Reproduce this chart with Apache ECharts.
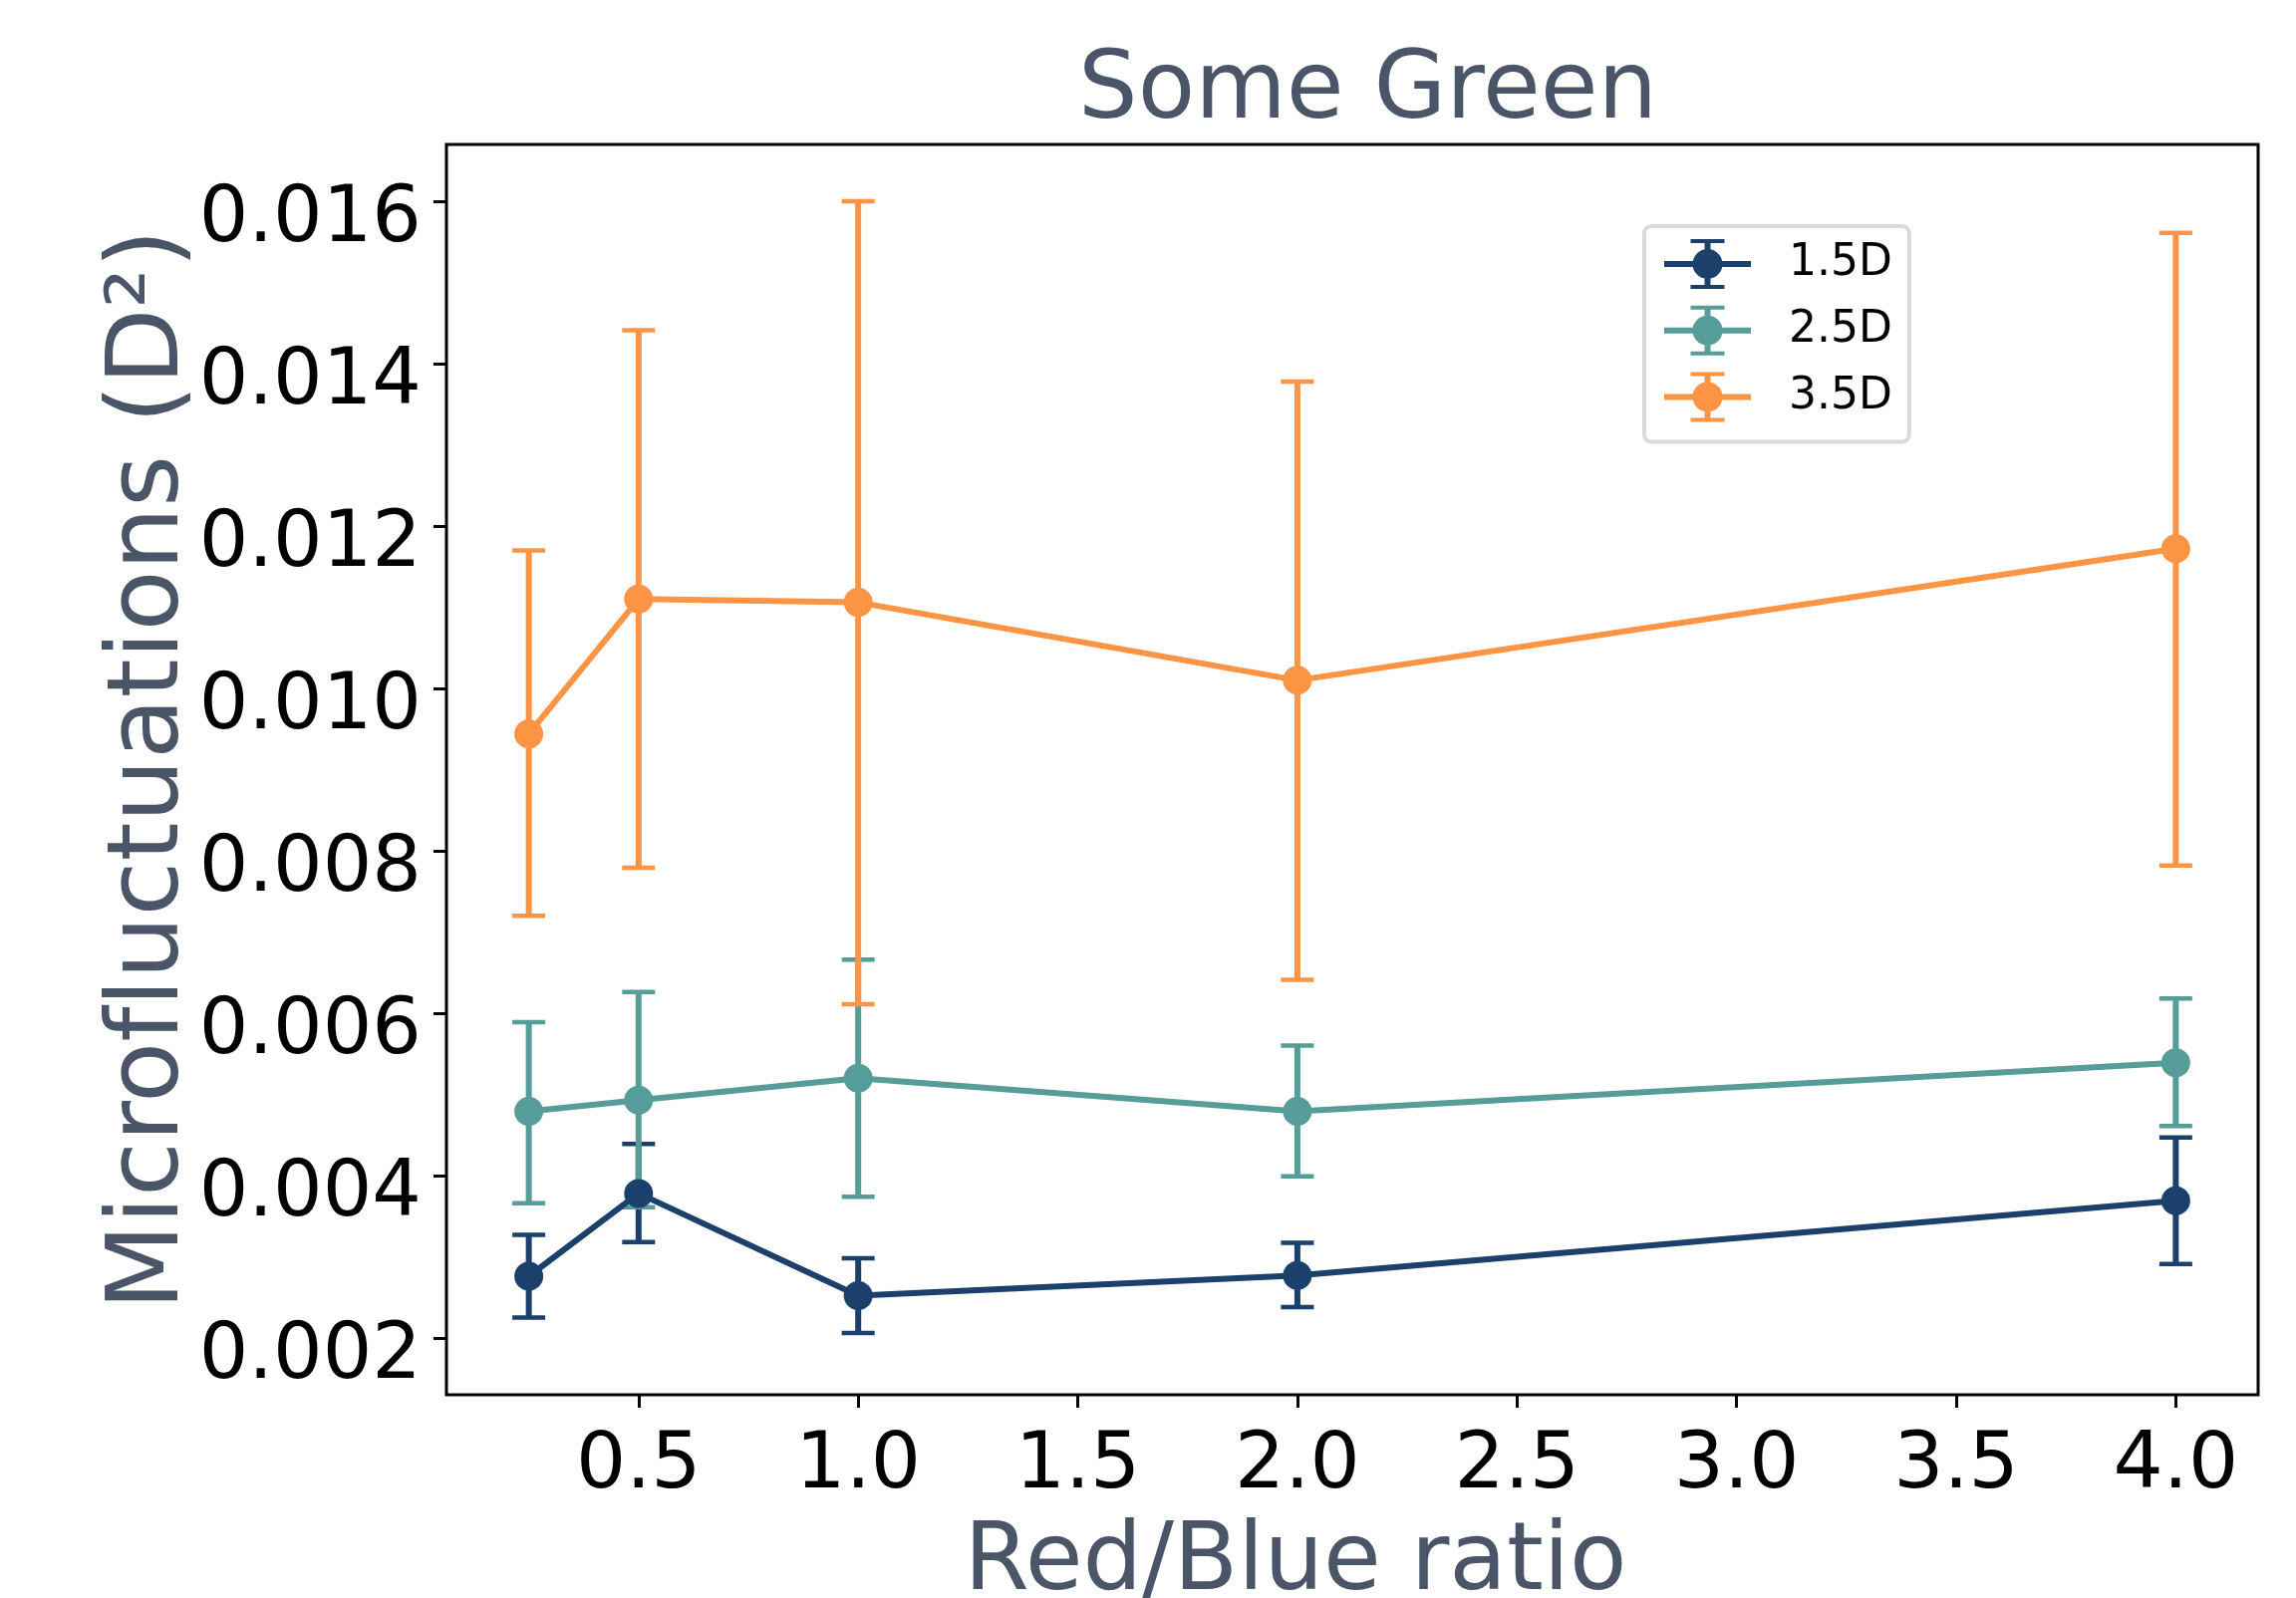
<!DOCTYPE html>
<html>
<head>
<meta charset="utf-8">
<title>Some Green</title>
<script src="https://cdn.jsdelivr.net/npm/echarts/dist/echarts.min.js"></script>
<style>
    html, body { margin: 0; padding: 0; background: #fff; }
    .chart { width: 2304px; height: 1604px; }
</style>
</head>
<body>
<div class="chart"></div>
<script>
// x values (Red/Blue ratio)
var ratios = [0.25, 0.5, 1.0, 2.0, 4.0];

// 1.5D
var mean15 = [0.00276, 0.00378, 0.00252, 0.00277, 0.00369];
var low15  = [0.00225, 0.00318, 0.00206, 0.00238, 0.00291];
var high15 = [0.00327, 0.00439, 0.00298, 0.00317, 0.00447];

// 2.5D
var mean25 = [0.00479, 0.00493, 0.00520, 0.00479, 0.00539];
var low25  = [0.00366, 0.00361, 0.00374, 0.00399, 0.00461];
var high25 = [0.00589, 0.00626, 0.00666, 0.00560, 0.00618];

// 3.5D
var mean35 = [0.00944, 0.01110, 0.01106, 0.01010, 0.01172];
var low35  = [0.00720, 0.00779, 0.00611, 0.00641, 0.00782];
var high35 = [0.01170, 0.01441, 0.01600, 0.01378, 0.01561];

var xTicks = [0.5, 1.0, 1.5, 2.0, 2.5, 3.0, 3.5, 4.0];
var yTicks = [0.002, 0.004, 0.006, 0.008, 0.010, 0.012, 0.014, 0.016];

var seriesNames = ['1.5D', '2.5D', '3.5D'];
var colors = ['#1b406c', '#569c99', '#fb9444'];

(function(){
    var myChart = echarts.init(document.querySelector('.chart'));
    var font = 'DejaVu Sans';
    var slate = '#4a5568';
    // errorbar icon for the legend
    var icon = 'path://M0 22h87v6H0Z M40.5 0h6v50h-6Z M26.5 0h34v4h-34Z M26.5 46h34v4h-34Z M28.5 25a15 15 0 1 1 30 0a15 15 0 1 1 -30 0Z';

    var means = [mean15, mean25, mean35];
    var lows = [low15, low25, low35];
    var highs = [high15, high25, high35];

    function errorBars(color) {
        return function (params, api) {
            var x = api.value(0);
            var top = api.coord([x, api.value(2)]);
            var bot = api.coord([x, api.value(1)]);
            var hw = 16.5;
            return {
                type: 'group',
                children: [
                    { type: 'line', shape: { x1: top[0], y1: top[1], x2: bot[0], y2: bot[1] },
                      style: { stroke: color, lineWidth: 6 } },
                    { type: 'line', shape: { x1: top[0] - hw, y1: top[1], x2: top[0] + hw, y2: top[1] },
                      style: { stroke: color, lineWidth: 4.5 } },
                    { type: 'line', shape: { x1: bot[0] - hw, y1: bot[1], x2: bot[0] + hw, y2: bot[1] },
                      style: { stroke: color, lineWidth: 4.5 } }
                ]
            };
        };
    }

    var series = [];
    seriesNames.forEach(function (name, i) {
        series.push({
            name: name,
            type: 'line',
            data: ratios.map(function (x, j) { return [x, means[i][j]]; }),
            symbol: 'circle',
            symbolSize: 29,
            itemStyle: { color: colors[i] },
            lineStyle: { color: colors[i], width: 6 },
            z: 3
        });
    });
    seriesNames.forEach(function (name, i) {
        series.push({
            name: name,
            type: 'custom',
            renderItem: errorBars(colors[i]),
            data: ratios.map(function (x, j) { return [x, lows[i][j], highs[i][j]]; }),
            encode: { x: 0, y: [1, 2] },
            itemStyle: { color: colors[i] },
            z: 2
        });
    });

    var option = {
        backgroundColor: '#fff',
        animation: false,
        title: {
            text: 'Some Green',
            left: 1077,
            top: 42,
            textStyle: { fontFamily: font, fontSize: 94, fontWeight: 'normal', color: slate }
        },
        legend: {
            orient: 'vertical',
            left: 1650,
            top: 227,
            icon: icon,
            itemWidth: 87,
            itemHeight: 50,
            itemGap: 16.7,
            padding: [13, 17, 20, 20],
            backgroundColor: '#fff',
            borderColor: '#dadada',
            borderWidth: 4,
            borderRadius: 7,
            data: seriesNames.map(function (n, i) {
                return { name: n, itemStyle: { color: colors[i], borderWidth: 0 } };
            }),
            textStyle: { fontFamily: font, fontSize: 44, color: '#000', padding: [0, 0, 0, 33] }
        },
        grid: {
            left: 448,
            top: 145,
            width: 1818,
            height: 1255,
            outerBoundsMode: 'none',
            containLabel: false,
            show: true,
            borderColor: '#000',
            borderWidth: 3,
            backgroundColor: '#fff'
        },
        xAxis: {
            type: 'value',
            min: 0.0625,
            max: 4.1875,
            name: 'Red/Blue ratio',
            nameLocation: 'middle',
            nameGap: 124,
            nameMoveOverlap: false,
            nameTextStyle: { fontFamily: font, fontSize: 94, color: slate, padding: [0, 114, 0, 0] },
            axisLine: { show: false },
            splitLine: { show: false },
            axisTick: { show: true, length: 13, customValues: xTicks, lineStyle: { color: '#000', width: 3 } },
            axisLabel: {
                customValues: xTicks,
                margin: 33,
                fontFamily: font,
                fontSize: 79,
                color: '#000',
                formatter: function (v) { return v.toFixed(1); }
            }
        },
        yAxis: {
            type: 'value',
            min: 0.0013,
            max: 0.0167,
            // zero-width non-joiner keeps "f" and "l" apart, as in the original
            name: 'Microf\u200cluctuations (D\u00b2)',
            nameLocation: 'middle',
            nameGap: 246,
            nameMoveOverlap: false,
            nameTextStyle: { fontFamily: font, fontSize: 100, color: slate },
            axisLine: { show: false },
            splitLine: { show: false },
            axisTick: { show: true, length: 13, customValues: yTicks, lineStyle: { color: '#000', width: 3 } },
            axisLabel: {
                customValues: yTicks,
                margin: 25,
                fontFamily: font,
                fontSize: 78,
                color: '#000',
                verticalAlign: 'top',
                lineHeight: 40,
                formatter: function (v) { return v.toFixed(3); }
            }
        },
        series: series
    };

    myChart.setOption(option);
    window.addEventListener('resize', function(){
        myChart.resize();
    });
})();
</script>
</body>
</html>
